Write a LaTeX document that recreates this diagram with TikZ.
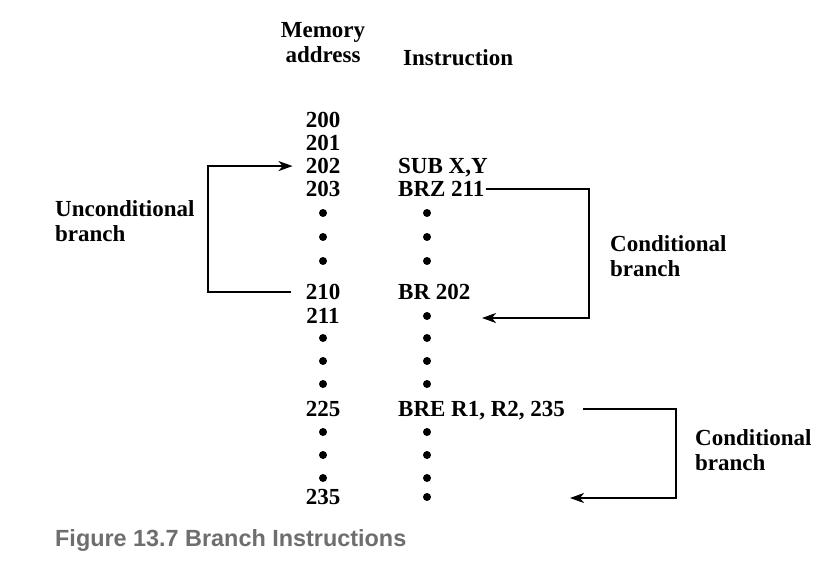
\documentclass[tikz,border=0pt]{standalone}
\usepackage{fontspec}
\setmainfont{Liberation Serif}
\newfontfamily\capfont{Liberation Sans}
\usetikzlibrary{arrows.meta}
\definecolor{capgray}{HTML}{6E6E6E}
\begin{document}
\begin{tikzpicture}[x=1pt,y=-1pt,
  txt/.style={font=\fontsize{23}{25}\selectfont\bfseries, inner sep=0pt},
  addr/.style={txt, anchor=base},
  ins/.style={txt, anchor=base west, text depth=0pt},
  dotn/.style={circle, fill=black, minimum size=8pt, inner sep=0pt},
  arr/.style={line width=1.6pt, -{Stealth[length=14pt,width=10pt,inset=4pt]}},
]
\useasboundingbox (0,0) rectangle (824,583);
\fill[white] (0,0) rectangle (824,583);

% headers
\node[txt, anchor=north, align=center] (mem) at (323,22) {Memory\\address};
\node[ins] (hdr) at (403,65.6) {Instruction};

% address column
\node[addr] (a200) at (323,127.6) {200};
\node[addr] (a201) at (323,150.6) {201};
\node[addr] (a202) at (323,173.6) {202};
\node[addr] (a203) at (323,196.6) {203};
\node[dotn] (ad1) at (323,213) {};
\node[dotn] (ad2) at (323,237) {};
\node[dotn] (ad3) at (323,261) {};
\node[addr] (a210) at (323,299.6) {210};
\node[addr] (a211) at (323,323.6) {211};
\node[dotn] (ad4) at (323,338) {};
\node[dotn] (ad5) at (323,361) {};
\node[dotn] (ad6) at (323,384) {};
\node[addr] (a225) at (323,416.6) {225};
\node[dotn] (ad7) at (323,432) {};
\node[dotn] (ad8) at (323,455) {};
\node[dotn] (ad9) at (323,478) {};
\node[addr] (a235) at (323,504.6) {235};

% instruction column
\node[ins] (sub) at (398,173.6) {SUB X,Y};
\node[ins] (brz) at (398,196.6) {BRZ 211};
\node[dotn] (id1) at (427,213) {};
\node[dotn] (id2) at (427,237) {};
\node[dotn] (id3) at (427,261) {};
\node[ins] (br) at (398,299.6) {BR 202};
\node[dotn] (id4) at (427,316) {};
\node[dotn] (id5) at (427,338) {};
\node[dotn] (id6) at (427,361) {};
\node[dotn] (id7) at (427,384) {};
\node[ins] (bre) at (398,416.6) {BRE R1, R2, 235};
\node[dotn] (id8) at (427,432) {};
\node[dotn] (id9) at (427,455) {};
\node[dotn] (id10) at (427,478) {};
\node[dotn] (id11) at (427,497) {};

% labels
\node[txt, anchor=north west, align=left] (ulab) at (55,200) {Unconditional\\branch};
\node[txt, anchor=north west, align=left] (clab1) at (610,235) {Conditional\\branch};
\node[txt, anchor=north west, align=left] (clab2) at (695,429) {Conditional\\branch};

% connectors
\coordinate (ul) at (208,0);
\coordinate (c1) at (589,0);
\coordinate (c2) at (676,0);
\coordinate (t1) at (482,318);
\coordinate (t2) at (570,498);
\draw[arr] ([xshift=-15pt]a210.west) -- (a210.west -| ul) |- ([xshift=-13pt]a202.west);
\draw[arr] ([xshift=1pt]brz.east) -- (brz.east -| c1) |- (t1);
\draw[arr] ([xshift=18pt]bre.east) -- (bre.east -| c2) |- (t2);

% caption
\node[font=\capfont\bfseries\fontsize{23.4}{26}\selectfont, text=capgray, anchor=base west, inner sep=0pt] (cap) at (55,546) {Figure 13.7 Branch Instructions};
\end{tikzpicture}
\end{document}
